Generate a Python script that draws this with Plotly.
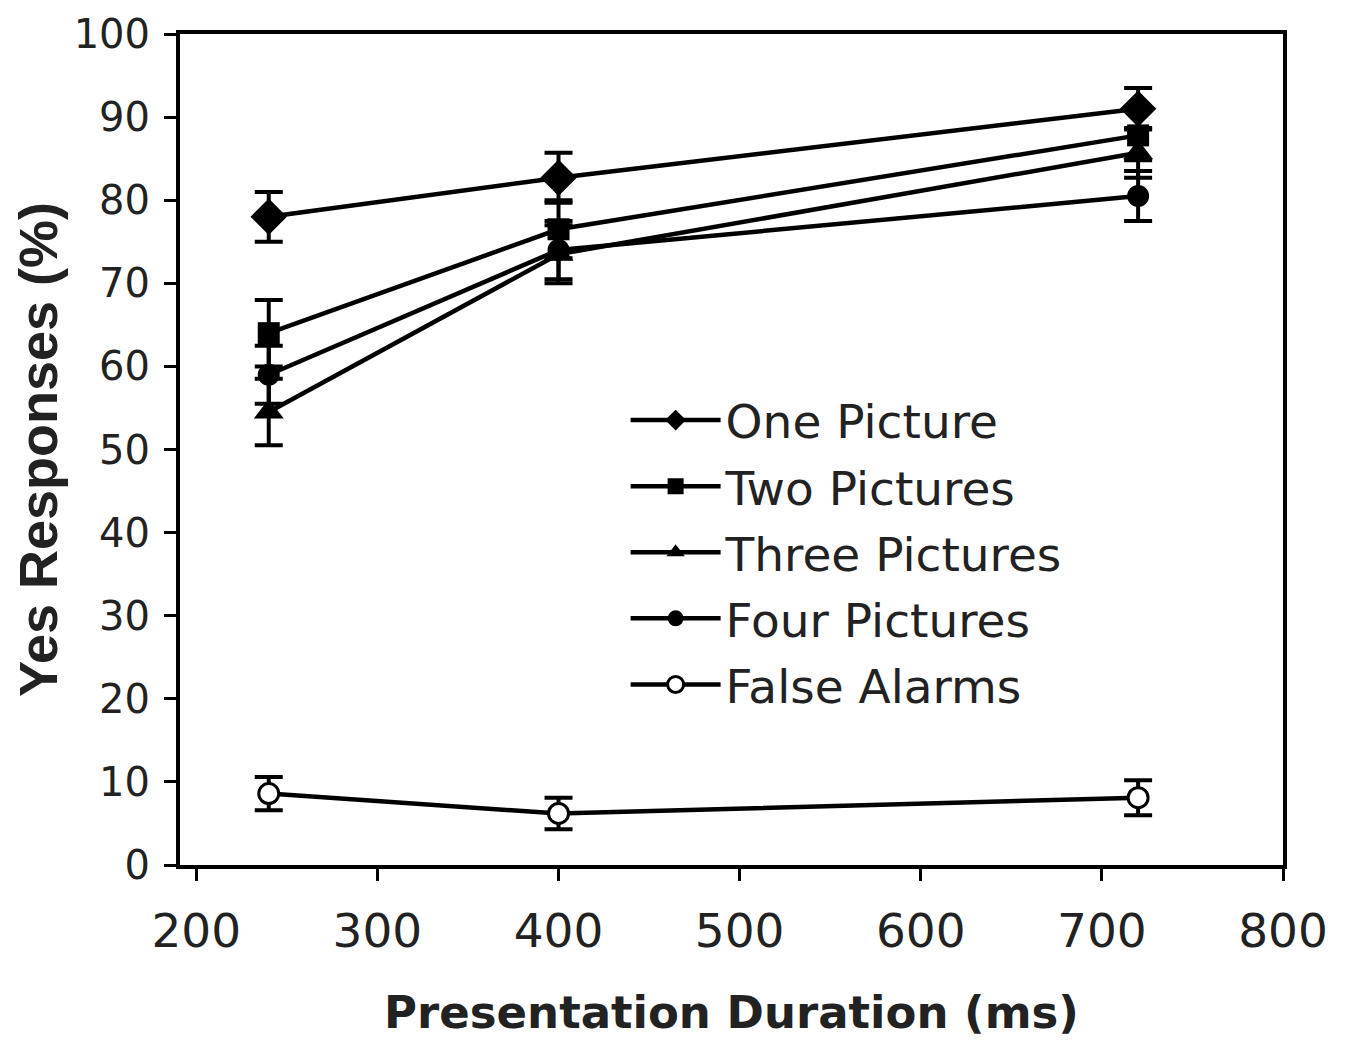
import plotly.graph_objects as go

durations = [240, 400, 720]

one_picture = [78, 82.7, 91]
one_err = [3, 3, 2.5]

two_pictures = [64, 76.5, 87.8]
two_err = [4, 3.5, 3]

three_pictures = [54.5, 73.5, 85.7]
three_err = [4, 3.5, 3]

four_pictures = [59, 74, 80.5]
four_err = [3.5, 3.5, 3]

false_alarms = [8.6, 6.2, 8.1]
false_err = [2, 1.9, 2.1]

series = [
    ("One Picture", one_picture, one_err, "diamond", 28, "black"),
    ("Two Pictures", two_pictures, two_err, "square", 22, "black"),
    ("Three Pictures", three_pictures, three_err, "triangle-up", 26, "black"),
    ("Four Pictures", four_pictures, four_err, "circle", 22, "black"),
    ("False Alarms", false_alarms, false_err, "circle", 20, "white"),
]

fig = go.Figure()
for i, (name, vals, err, sym, size, fill) in enumerate(series):
    fig.add_trace(go.Scatter(
        x=durations, y=vals, name=name, mode="lines+markers",
        legendgroup=f"g{i}",
        line=dict(color="black", width=4.5),
        marker=dict(symbol=sym, size=size, color=fill,
                    line=dict(color="black", width=3 if fill == "white" else 0)),
        error_y=dict(type="data", array=err, visible=True,
                     color="black", thickness=4, width=14),
    ))

# page body has an 8px default margin; margins compensate for it
fig.update_layout(
    width=1349, height=1041,
    paper_bgcolor="white", plot_bgcolor="white",
    margin=dict(l=172, r=74, t=26, b=184, autoexpand=False),
    showlegend=True,
    legend=dict(x=0.404, y=0.58, xanchor="left", yanchor="top",
                font=dict(family="DejaVu Sans", size=47, color="#222"),
                bgcolor="rgba(0,0,0,0)", tracegroupgap=2,
                itemwidth=90),
    font=dict(family="DejaVu Sans", color="#222"),
)
fig.update_xaxes(
    range=[191, 800], tickvals=[200, 300, 400, 500, 600, 700, 800],
    ticks="outside", ticklen=12, tickwidth=3, tickcolor="black",
    ticklabelstandoff=10, ticklabeloverflow="allow",
    showline=True, linecolor="black", linewidth=4, mirror=True,
    showgrid=False, zeroline=False,
    tickfont=dict(family="DejaVu Sans", size=47, color="#222"),
    title=dict(text="<b>Presentation Duration (ms)</b>",
               font=dict(family="DejaVu Sans", size=45, color="#222"),
               standoff=40),
)
fig.update_yaxes(
    range=[0, 100], tickvals=list(range(0, 101, 10)),
    ticks="outside", ticklen=12, tickwidth=3, tickcolor="black",
    ticklabelstandoff=6, ticklabeloverflow="allow",
    showline=True, linecolor="black", linewidth=4, mirror=True,
    showgrid=False, zeroline=False,
    tickfont=dict(family="DejaVu Sans", size=40, color="#222"),
    title=dict(text="<b>Yes Responses (%)</b>",
               font=dict(family="Liberation Sans Narrow, Liberation Sans", size=54, color="#222"),
               standoff=34),
)

fig.write_html("out.html")
